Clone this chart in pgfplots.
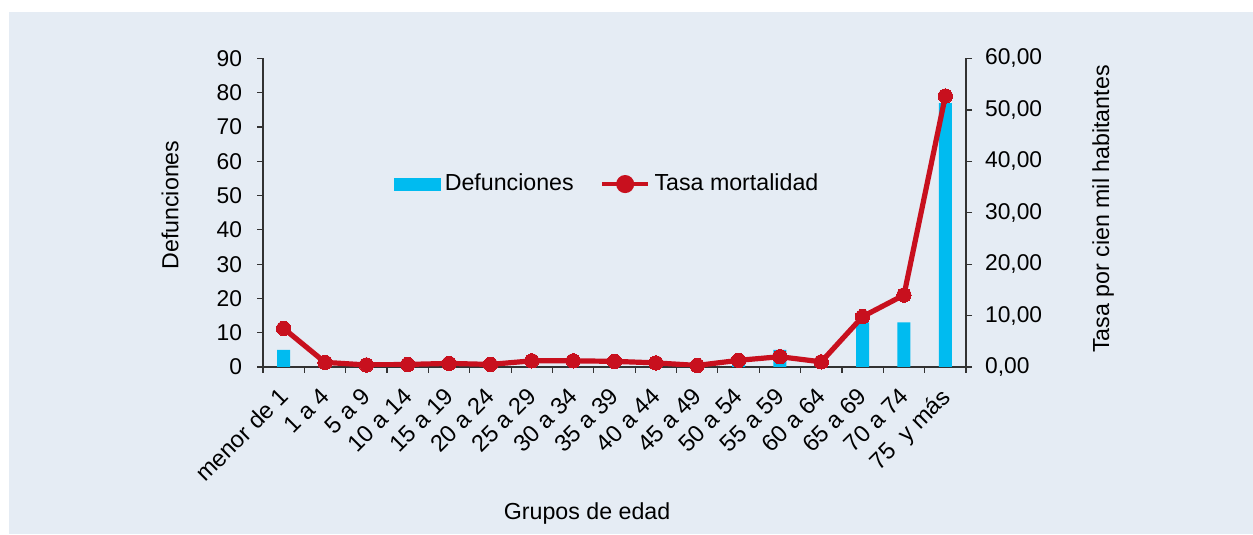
\documentclass[border=0pt]{standalone}
\usepackage{fontspec}
\setmainfont{Liberation Sans}
\usepackage{pgfplots}
\usepackage{pgfplotstable}
\pgfplotsset{compat=1.18}

\definecolor{panel}{RGB}{229,236,244}
\definecolor{barcyan}{RGB}{0,187,240}
\definecolor{rojo}{RGB}{200,16,30}
\definecolor{ejes}{RGB}{50,50,50}

% muertes por grupo de edad (eje izq.) y tasa por 100 mil (eje der.)
\pgfplotstableread{
x  def  tasa
0  5    7.5
1  1    0.9
2  0    0.4
3  0    0.5
4  0    0.7
5  0    0.5
6  0    1.2
7  0    1.2
8  0    1.1
9  0    0.8
10 0    0.3
11 3    1.3
12 5    2.0
13 1    1.0
14 13   9.8
15 13   14.0
16 77   52.7
}\datos

\begin{document}
\begin{tikzpicture}[x=1pt,y=1pt]
\fill[white] (0,0) rectangle (626.5,267.5);
\fill[panel] (4.5,0.5) rectangle (626.5,261.5);

\pgfplotsset{
  comun/.style={
    at={(131.5pt,84pt)}, anchor=south west,
    scale only axis, width=351.5pt, height=154.25pt,
    xmin=-0.5, xmax=16.5,
    axis line style={ejes, line width=0.6pt},
    tick style={ejes, line width=0.6pt},
    tick align=outside, major tick length=3pt,
    /pgf/number format/assume math mode=true,
    every tick label/.append style={font=\fontsize{11.4}{12}\selectfont, text=black},
    label style={font=\fontsize{11.6}{13}\selectfont},
  },
}

\begin{axis}[comun,
  axis y line*=left, axis x line*=bottom,
  ymin=0, ymax=90, ytick={0,10,...,90},
  xtick={-0.5,0.5,...,16.5}, xticklabels={},
  extra x ticks={0,1,...,16},
  extra x tick style={major tick length=0pt},
  extra x tick labels={menor de 1,1 a 4,5 a 9,10 a 14,15 a 19,20 a 24,25 a 29,30 a 34,35 a 39,40 a 44,45 a 49,50 a 54,55 a 59,60 a 64,65 a 69,70 a 74,75~ y más},
  xticklabel style={xshift=-3pt, yshift=-8pt, rotate=45, anchor=north east, inner sep=1pt, font=\fontsize{11.8}{12}\selectfont},
  yticklabel style={xshift=-4pt},
  ylabel={Defunciones},
  ylabel style={at={(axis description cs:-0.132,0.525)}, anchor=center},
  xlabel={Grupos de edad},
  xlabel style={at={(axis description cs:0.461,-0.476)}, anchor=center},
  ybar, bar width=6.5pt,
]
\addplot[fill=barcyan, draw=none] table[x=x, y=def] {\datos};
\end{axis}

\begin{axis}[comun,
  axis y line*=right, axis x line=none,
  ymin=0, ymax=60, ytick={0,10,...,60},
  yticklabel style={xshift=3pt, /pgf/number format/fixed, /pgf/number format/fixed zerofill,
    /pgf/number format/precision=2, /pgf/number format/use comma},
  ylabel={Tasa por cien mil habitantes},
  ylabel style={at={(axis description cs:1.195,0.512)}, anchor=center},
  legend columns=2,
  legend style={draw=none, fill=none, at={(axis description cs:0.491,0.593)}, anchor=center,
    font=\fontsize{11.6}{13}\selectfont,
    /tikz/every even column/.append style={column sep=11pt}},
]
\addlegendimage{legend image code/.code={\fill[barcyan] (0pt,-3pt) rectangle (23pt,3pt);}}
\addlegendentry{Defunciones}
\addplot[rojo, line width=2.6pt, mark=*, mark size=3.6pt, mark options={fill=rojo, draw=rojo, line width=0pt},
  legend image code/.code={\draw[rojo, line width=2.4pt] (0pt,0pt) -- (23pt,0pt); \fill[rojo] (11.5pt,0pt) circle (3.2pt);}]
  table[x=x, y=tasa] {\datos};
\addlegendentry{Tasa mortalidad}
\end{axis}
\end{tikzpicture}
\end{document}
